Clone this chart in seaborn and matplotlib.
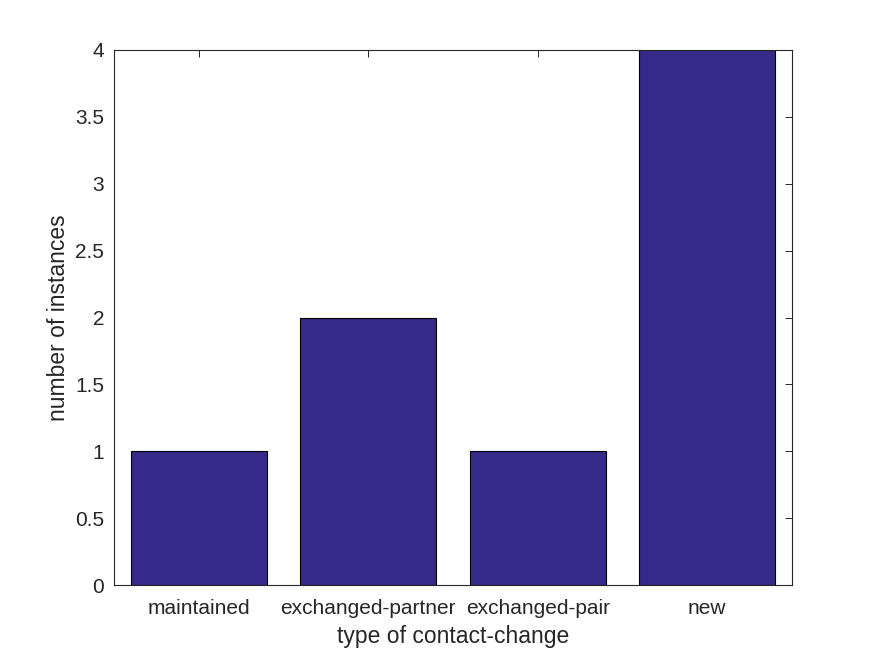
import matplotlib
matplotlib.use("Agg")
import matplotlib.pyplot as plt
import seaborn as sns
import pandas as pd

categories = ["maintained", "exchanged-partner", "exchanged-pair", "new"]
counts = [1, 2, 1, 4]
y_ticks = [0, 0.5, 1, 1.5, 2, 2.5, 3, 3.5, 4]
y_tick_labels = ["0", "0.5", "1", "1.5", "2", "2.5", "3", "3.5", "4"]

sns.set_theme(style="white")
plt.rcParams['font.family'] = ['Liberation Sans', 'DejaVu Sans']

df = pd.DataFrame({"type": categories, "count": counts})

fig = plt.figure(figsize=(8.75, 6.56), dpi=100)
ax = fig.add_axes([0.1303, 0.1082, 0.7748, 0.8156])

sns.barplot(data=df, x="type", y="count", order=categories, color="#352A87",
            saturation=1, width=0.8, edgecolor="black", linewidth=0.8, ax=ax)

ax.set_xlim(-0.5, 3.5)
ax.set_ylim(0, 4)
ax.set_yticks(y_ticks)
ax.set_yticklabels(y_tick_labels)
ax.set_xticks(range(len(categories)))
ax.set_xticklabels(categories)
ax.tick_params(direction="in", length=5, width=0.7, color="#262626",
               top=True, right=True, labelsize=15, labelcolor="#262626")
ax.tick_params(axis="x", pad=10)
ax.tick_params(axis="y", pad=7)
for s in ax.spines.values():
    s.set_visible(True)
    s.set_color("#262626")
    s.set_linewidth(0.8)
ax.set_xlabel("type of contact-change", fontsize=16.5, color="#262626", labelpad=5)
ax.set_ylabel("number of instances", fontsize=16.5, color="#262626", labelpad=4)

fig.savefig("out.png", dpi=100, facecolor="white")
